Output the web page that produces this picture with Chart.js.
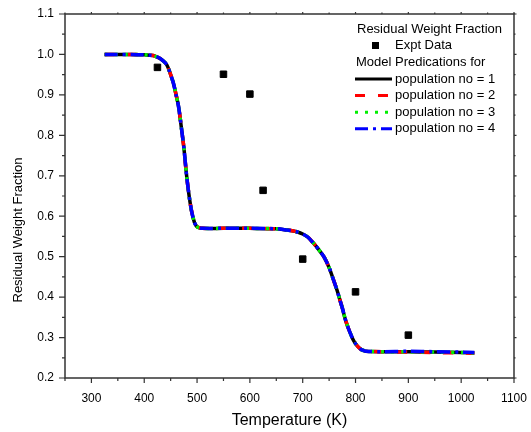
<!DOCTYPE html>
<html>
<head>
<meta charset="utf-8">
<script src="https://cdn.jsdelivr.net/npm/chart.js@4.4.0/dist/chart.umd.min.js"></script>
<style>
body{margin:0;background:#fff;}
canvas{display:block;}
</style>
</head>
<body>
<canvas id="myChart" width="531" height="432"></canvas>
<script>
// experimental points
var exptTemp = [425, 550, 600, 625, 700, 800, 900];
var exptFrac = [0.968, 0.951, 0.902, 0.664, 0.494, 0.413, 0.306];

// model curve (all four populations sit on top of each other)
var modelTemp = [325, 350, 375, 400, 410, 420, 430, 440, 445, 450, 455, 460, 465, 470, 475, 480, 485, 490, 495, 500, 505, 510, 550, 600, 650, 670, 680, 690, 700, 710, 720, 730, 740, 750, 760, 765, 770, 775, 780, 785, 790, 795, 800, 805, 810, 815, 820, 850, 900, 950, 1000, 1025];
var pop1 = [1.000, 1.000, 1.000, 0.999, 0.998, 0.996, 0.990, 0.979, 0.968, 0.950, 0.930, 0.902, 0.871, 0.822, 0.770, 0.703, 0.650, 0.610, 0.585, 0.574, 0.571, 0.570, 0.570, 0.570, 0.569, 0.566, 0.564, 0.561, 0.556, 0.548, 0.534, 0.518, 0.500, 0.473, 0.436, 0.417, 0.395, 0.373, 0.348, 0.328, 0.311, 0.296, 0.285, 0.277, 0.271, 0.268, 0.266, 0.265, 0.265, 0.264, 0.263, 0.262];
var pop2 = [1.000, 1.000, 1.000, 0.999, 0.998, 0.996, 0.990, 0.979, 0.968, 0.950, 0.930, 0.902, 0.871, 0.822, 0.770, 0.703, 0.650, 0.610, 0.585, 0.574, 0.571, 0.570, 0.570, 0.570, 0.569, 0.566, 0.564, 0.561, 0.556, 0.548, 0.534, 0.518, 0.500, 0.473, 0.436, 0.417, 0.395, 0.373, 0.348, 0.328, 0.311, 0.296, 0.285, 0.277, 0.271, 0.268, 0.266, 0.265, 0.264, 0.263, 0.262, 0.261];
var pop3 = [1.000, 1.000, 1.000, 0.999, 0.998, 0.996, 0.990, 0.979, 0.968, 0.950, 0.930, 0.902, 0.871, 0.822, 0.770, 0.703, 0.650, 0.610, 0.585, 0.574, 0.571, 0.570, 0.570, 0.570, 0.569, 0.566, 0.564, 0.561, 0.556, 0.548, 0.534, 0.518, 0.500, 0.473, 0.436, 0.417, 0.395, 0.373, 0.348, 0.328, 0.311, 0.296, 0.285, 0.277, 0.271, 0.268, 0.266, 0.265, 0.265, 0.264, 0.263, 0.262];
var pop4 = [1.000, 1.000, 1.000, 0.999, 0.998, 0.996, 0.990, 0.979, 0.968, 0.950, 0.930, 0.902, 0.871, 0.822, 0.770, 0.703, 0.650, 0.610, 0.585, 0.574, 0.571, 0.570, 0.570, 0.570, 0.569, 0.566, 0.564, 0.561, 0.556, 0.548, 0.534, 0.518, 0.500, 0.473, 0.436, 0.417, 0.395, 0.373, 0.348, 0.328, 0.311, 0.296, 0.285, 0.277, 0.271, 0.268, 0.266, 0.265, 0.266, 0.265, 0.264, 0.263];

var popLabels = ['population no = 1', 'population no = 2', 'population no = 3', 'population no = 4'];
var popColors = ['#000000', '#ff0000', '#00ee00', '#0000ff'];
var popDash = [[], [10, 13], [3, 7], [13, 5, 3, 5]];

var xTickLabels = ['300', '400', '500', '600', '700', '800', '900', '1000', '1100'];
var yTickLabels = ['0.2', '0.3', '0.4', '0.5', '0.6', '0.7', '0.8', '0.9', '1.0', '1.1'];

var legendTitle = 'Residual Weight Fraction';
var exptLabel = 'Expt Data';
var modelHeading = 'Model Predications for';
var xTitle = 'Temperature (K)';
var yTitle = 'Residual Weight Fraction';

var FONT = "'Liberation Sans', Arial, sans-serif";
Chart.defaults.font.family = FONT;
Chart.defaults.color = '#000';

function toPoints(xs, ys){
    return xs.map(function(x, i){ return {x: x, y: ys[i]}; });
}

var pops = [pop1, pop2, pop3, pop4];
var datasets = [{
    label: exptLabel,
    data: toPoints(exptTemp, exptFrac),
    showLine: false,
    pointStyle: 'rect',
    pointRadius: 4.6,
    backgroundColor: '#000',
    borderColor: '#000',
    borderWidth: 1,
    order: 0
}];
for (var i = 0; i < 4; i++){
    datasets.push({
        label: popLabels[i],
        data: toPoints(modelTemp, pops[i]),
        showLine: true,
        borderColor: popColors[i],
        borderWidth: 3.5,
        borderDash: popDash[i],
        pointRadius: 0,
        tension: 0.3,
        fill: false,
        order: 4 - i
    });
}

function isMajorX(v){ return xTickLabels.indexOf(String(Math.round(v))) >= 0; }
function yLabel(v){
    var t = (Math.round(v * 10) / 10).toFixed(1);
    if (Math.abs(v * 10 - Math.round(v * 10)) < 1e-6 && yTickLabels.indexOf(t) >= 0) return t;
    return '';
}

// box + ticks on all four sides, minor ticks shorter
var framePlugin = {
    id: 'frame',
    afterDatasetsDraw: function(chart){
        var c = chart.ctx, a = chart.chartArea;
        var xs = chart.scales.x, ys = chart.scales.y;
        c.save();
        c.strokeStyle = '#333';
        c.lineWidth = 1.5;
        c.strokeRect(a.left, a.top, a.right - a.left, a.bottom - a.top);
        c.lineWidth = 1.2;
        c.beginPath();
        xs.ticks.forEach(function(t){
            var px = xs.getPixelForValue(t.value);
            var major = isMajorX(t.value);
            c.moveTo(px, a.bottom); c.lineTo(px, a.bottom + (major ? 5 : 3));
            c.moveTo(px, a.top); c.lineTo(px, a.top - (major ? 2 : 1.5));
        });
        ys.ticks.forEach(function(t){
            var py = ys.getPixelForValue(t.value);
            var major = yLabel(t.value) !== '';
            c.moveTo(a.left, py); c.lineTo(a.left - (major ? 6 : 3), py);
            c.moveTo(a.right, py); c.lineTo(a.right + (major ? 2.5 : 1.5), py);
        });
        c.stroke();

        // axis titles
        c.fillStyle = '#000';
        c.font = '16px ' + FONT;
        c.textAlign = 'center';
        c.textBaseline = 'middle';
        c.fillText(xTitle, (a.left + a.right) / 2, 421);
        c.save();
        c.translate(18, 230);
        c.rotate(-Math.PI / 2);
        c.font = '13px ' + FONT;
        c.fillText(yTitle, 0, 0);
        c.restore();

        // legend
        c.font = '13px ' + FONT;
        c.textAlign = 'left';
        c.fillText(legendTitle, 357, 29);
        c.fillRect(372, 42, 7, 7);
        c.fillText(exptLabel, 395, 45.5);
        c.fillText(modelHeading, 356, 62);
        for (var k = 0; k < 4; k++){
            var ly = 79 + k * 16.6;
            c.strokeStyle = popColors[k];
            c.lineWidth = 3;
            c.setLineDash(popDash[k]);
            c.beginPath();
            c.moveTo(355, ly); c.lineTo(392, ly);
            c.stroke();
            c.setLineDash([]);
            c.fillText(popLabels[k], 395, ly);
        }
        c.restore();
    }
};

var ctx = document.getElementById('myChart').getContext('2d');
var myChart = new Chart(ctx, {
    type: 'scatter',
    data: { datasets: datasets },
    options: {
        responsive: false,
        animation: false,
        devicePixelRatio: 1,
        layout: { padding: { top: 14, right: 17, left: 0, bottom: 0 } },
        plugins: { legend: { display: false }, tooltip: { enabled: false } },
        scales: {
            x: {
                type: 'linear',
                min: 250, max: 1100,
                afterFit: function(s){ s.height = 54; s.paddingLeft = 0; s.paddingRight = 0; },
                grid: { display: false, drawTicks: false },
                border: { display: false },
                ticks: {
                    stepSize: 50,
                    autoSkip: false,
                    maxRotation: 0,
                    padding: 13,
                    font: { size: 12 },
                    callback: function(v){ return isMajorX(v) ? String(Math.round(v)) : ''; }
                }
            },
            y: {
                type: 'linear',
                min: 0.2, max: 1.1,
                afterFit: function(s){ s.width = 65; s.paddingTop = 0; s.paddingBottom = 0; },
                grid: { display: false, drawTicks: false },
                border: { display: false },
                ticks: {
                    stepSize: 0.05,
                    autoSkip: false,
                    padding: 11,
                    font: { size: 12 },
                    callback: function(v){ return yLabel(v); }
                }
            }
        }
    },
    plugins: [framePlugin]
});
</script>
</body>
</html>
